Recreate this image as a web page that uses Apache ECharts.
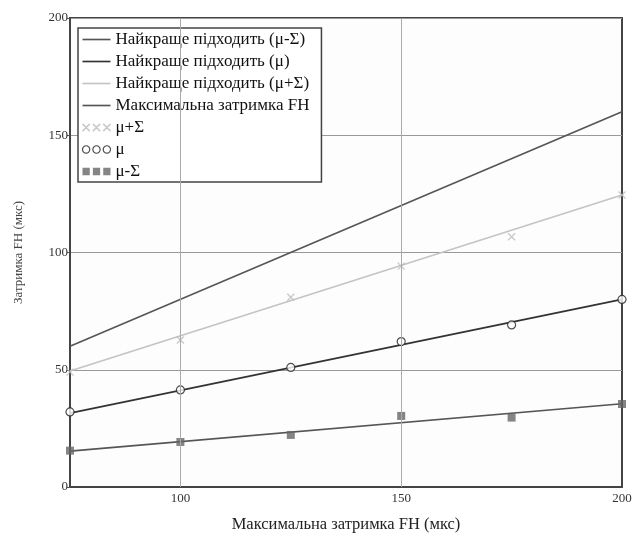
<!DOCTYPE html>
<html><head><meta charset="utf-8">
<script src="https://cdn.jsdelivr.net/npm/echarts@6/dist/echarts.min.js"></script>
<style>html,body{margin:0;padding:0;background:#fff;}#c{width:634px;height:541px;}</style>
</head><body><div id="c"></div>
<script>
const xValues = [75, 100, 125, 150, 175, 200];
const muPlusSigma = [49, 62.7, 80.9, 94.2, 106.7, 124.5];
const mu = [32, 41.4, 51, 62, 69.1, 80];
const muMinusSigma = [15.5, 19.2, 22.2, 30.3, 29.6, 35.4];
const fitX = [75, 200];
const fitMuMinus = [15.3, 35.5];
const fitMu = [31.5, 80];
const fitMuPlus = [49.5, 124.5];
const maxDelay = [60, 160];
const xTickLabels = [100, 150, 200];
const xGridValues = [100, 150];
const names = ['Найкраще підходить (μ-Σ)', 'Найкраще підходить (μ)', 'Найкраще підходить (μ+Σ)', 'Максимальна затримка FH', 'μ+Σ', 'μ', 'μ-Σ'];
const xTitle = 'Максимальна затримка FH (мкс)';
const yTitle = 'Затримка FH (мкс)';

const pair = (xs, ys) => xs.map((x, i) => [x, ys[i]]);
const serif = 'Liberation Serif';
const crossPath = 'path://M0,0L8,8M8,0L0,8';
const lineLegend = 'path://M0,0h27v1.6h-27Z';
const crossLegend = 'path://M0,0L7,7M7,0L0,7M10,0L17,7M17,0L10,7M20,0L27,7M27,0L20,7';
const circLegend = 'path://M7,3.5A3.5,3.5 0 1 1 6.99,3.49ZM17,3.5A3.5,3.5 0 1 1 16.99,3.49ZM27,3.5A3.5,3.5 0 1 1 26.99,3.49Z';
const sqLegend = 'path://M0,0h7v7h-7ZM10,0h7v7h-7ZM20,0h7v7h-7Z';
const lineColors = ['#555', '#333', '#c4c4c4', '#555'];

const chart = echarts.init(document.getElementById('c'));
const lineS = (name, ys, color, w) => ({
  name, type: 'line', data: pair(fitX, ys), showSymbol: false, symbol: 'none',
  lineStyle: { color, width: w }, itemStyle: { color }, z: 2, animation: false
});
const fit0 = lineS(names[0], fitMuMinus, lineColors[0], 1.6);
fit0.markLine = {
  silent: true, symbol: 'none', label: { show: false }, animation: false,
  lineStyle: { color: '#aaa', width: 1, type: 'solid' },
  data: xGridValues.map(v => ({ xAxis: v }))
};
chart.setOption({
  animation: false,
  grid: { left: 70, right: 12, top: 18, bottom: 54, outerBoundsMode: 'none', containLabel: false,
    show: true, borderColor: '#444', borderWidth: 2, backgroundColor: '#fdfdfd' },
  xAxis: {
    type: 'value', min: 75, max: 200, interval: 25,
    name: xTitle, nameLocation: 'middle', nameGap: 29,
    nameTextStyle: { fontFamily: serif, fontSize: 16.5, color: '#222' },
    axisLine: { show: true, lineStyle: { color: '#444', width: 2 } },
    axisTick: { show: false },
    axisLabel: { fontFamily: serif, fontSize: 13, color: '#333', margin: 5, customValues: xTickLabels },
    splitLine: { show: false }
  },
  yAxis: {
    type: 'value', min: 0, max: 200, interval: 50,
    name: yTitle, nameLocation: 'middle', nameGap: 45,
    nameTextStyle: { fontFamily: serif, fontSize: 13, color: '#444' },
    axisLine: { show: true, lineStyle: { color: '#444', width: 2 } },
    axisTick: { show: true, length: 3, lineStyle: { color: '#555' } },
    axisLabel: { fontFamily: serif, fontSize: 13, color: '#333', margin: 2 },
    splitLine: { show: true, lineStyle: { color: '#999', width: 1 } }
  },
  legend: {
    orient: 'vertical', left: 78, top: 28,
    backgroundColor: '#fff', borderColor: '#444', borderWidth: 1.5, borderRadius: 0,
    padding: [3, 12, 2, 2], itemGap: 5, itemWidth: 28, itemHeight: 14,
    textStyle: { fontFamily: serif, fontSize: 17, lineHeight: 17, color: '#111' },
    data: [
      { name: names[0], icon: lineLegend, itemStyle: { color: lineColors[0] } },
      { name: names[1], icon: lineLegend, itemStyle: { color: lineColors[1] } },
      { name: names[2], icon: lineLegend, itemStyle: { color: lineColors[2] } },
      { name: names[3], icon: lineLegend, itemStyle: { color: lineColors[3] } },
      { name: names[4], icon: crossLegend, itemStyle: { color: 'none', borderColor: '#bbb', borderWidth: 1.5 } },
      { name: names[5], icon: circLegend, itemStyle: { color: '#fff', borderColor: '#222', borderWidth: 1.2 } },
      { name: names[6], icon: sqLegend, itemStyle: { color: '#666', borderWidth: 0 } }
    ]
  },
  series: [
    fit0,
    lineS(names[1], fitMu, lineColors[1], 1.6),
    lineS(names[2], fitMuPlus, lineColors[2], 1.6),
    lineS(names[3], maxDelay, lineColors[3], 1.6),
    { name: names[4], type: 'scatter', data: pair(xValues, muPlusSigma), symbol: crossPath, symbolSize: 7,
      itemStyle: { color: 'none', borderColor: '#bbb', borderWidth: 1.3 }, z: 3 },
    { name: names[5], type: 'scatter', data: pair(xValues, mu), symbol: 'circle', symbolSize: 8,
      itemStyle: { color: '#fff', borderColor: '#222', borderWidth: 1.2 }, z: 3 },
    { name: names[6], type: 'scatter', data: pair(xValues, muMinusSigma), symbol: 'rect', symbolSize: 8,
      itemStyle: { color: '#666' }, z: 3 }
  ]
});
</script></body></html>
